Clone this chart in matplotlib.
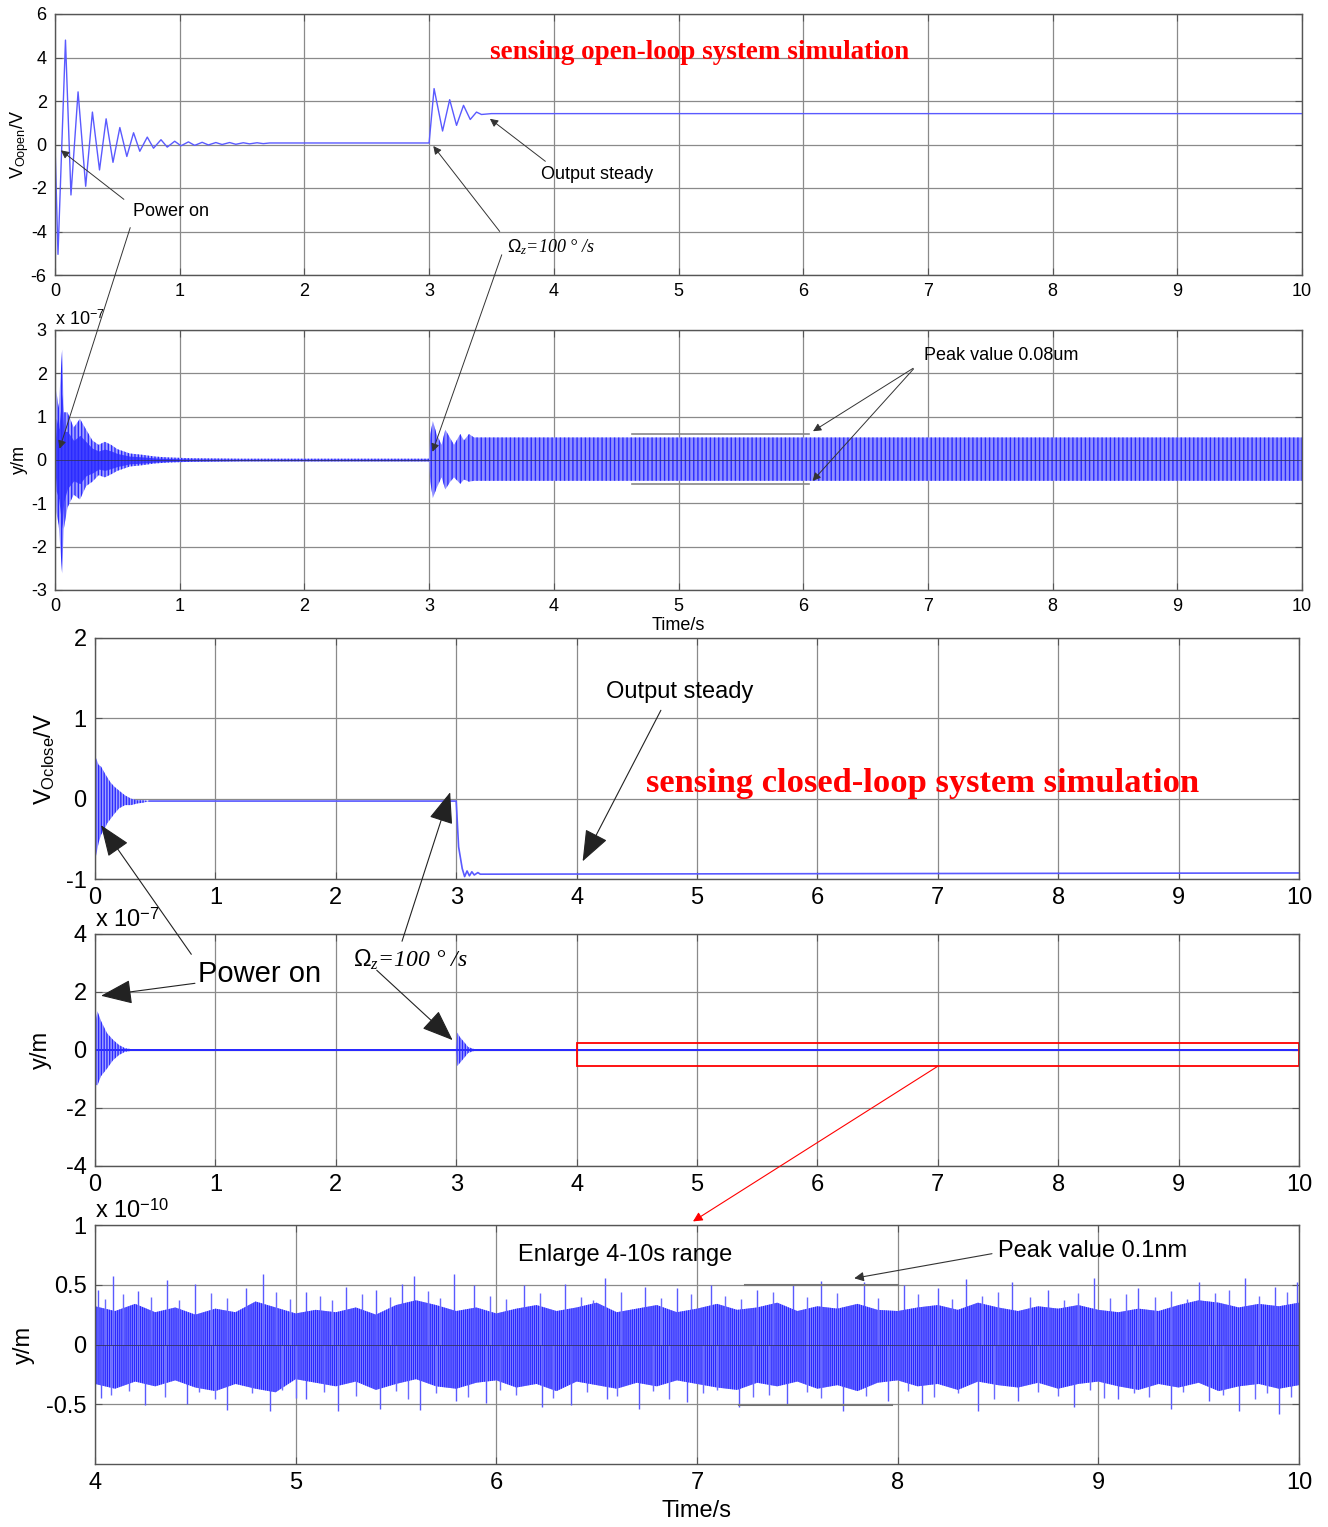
import numpy as np
import matplotlib
matplotlib.use('Agg')
import matplotlib.pyplot as plt

plt.rcParams['font.family'] = 'Liberation Sans'
plt.rcParams['mathtext.fontset'] = 'custom'
plt.rcParams['mathtext.rm'] = 'Liberation Sans'
plt.rcParams['mathtext.it'] = 'Liberation Serif:italic'
plt.rcParams['axes.unicode_minus'] = False
plt.rcParams['hatch.linewidth'] = 1.0

# open-loop drive voltage (V): extrema of the ringing after power on and after the rate step
t_vopen = [0, 0.024, 0.084, 0.128, 0.185, 0.246, 0.30, 0.357, 0.41, 0.465, 0.52, 0.576, 0.63,
           0.68, 0.74, 0.79, 0.85, 0.90, 0.96, 1.01, 1.07, 1.12, 1.18, 1.23, 1.29, 1.34, 1.40,
           1.45, 1.51, 1.56, 1.62, 1.67, 1.72, 3.0, 3.04, 3.108, 3.165, 3.22, 3.276, 3.33, 3.38,
           3.42, 3.5, 10.0]
v_open = [0, -5.05, 4.8, -2.32, 2.42, -1.92, 1.49, -1.17, 1.18, -0.82, 0.78, -0.55, 0.54,
          -0.31, 0.34, -0.17, 0.22, -0.12, 0.15, -0.06, 0.12, -0.04, 0.10, -0.02, 0.09, 0.0, 0.09,
          0.01, 0.08, 0.03, 0.08, 0.04, 0.07, 0.07, 2.57, 0.62, 2.06, 0.88, 1.80, 1.15, 1.49,
          1.38, 1.42, 1.42]

# open-loop displacement (x1e-7 m): envelope of the dense oscillation
t_yopen_a = [0, 0.01, 0.03, 0.057, 0.07, 0.1, 0.15, 0.2, 0.25, 0.3, 0.35, 0.4, 0.45, 0.5, 0.6,
             0.7, 0.8, 0.9, 1.0, 1.1, 1.5, 2.0, 2.5, 3.0]
yopen_up_a = [0.3, 1.6, 1.2, 2.55, 1.1, 1.1, 0.75, 0.95, 0.7, 0.45, 0.35, 0.42, 0.35, 0.25, 0.15,
              0.12, 0.08, 0.06, 0.05, 0.04, 0.03, 0.03, 0.03, 0.03]
yopen_lo_a = [-0.3, -1.2, -1.5, -2.62, -1.6, -1.1, -0.8, -0.91, -0.6, -0.5, -0.35, -0.4, -0.33,
              -0.25, -0.15, -0.12, -0.08, -0.06, -0.05, -0.04, -0.03, -0.03, -0.03, -0.03]
t_yopen_b = [3.0, 3.01, 3.03, 3.06, 3.1, 3.13, 3.17, 3.2, 3.25, 3.28, 3.32, 3.36, 3.4, 10.0]
yopen_up_b = [0.03, 0.6, 0.9, 0.6, 0.35, 0.7, 0.5, 0.35, 0.6, 0.45, 0.6, 0.52, 0.52, 0.52]
yopen_lo_b = [-0.03, -0.5, -0.88, -0.65, -0.4, -0.68, -0.5, -0.4, -0.55, -0.45, -0.5, -0.48,
              -0.48, -0.48]

# closed-loop drive voltage (V)
t_vclose_env = [0, 0.003, 0.01, 0.03, 0.05, 0.08, 0.1, 0.13, 0.16, 0.2, 0.25, 0.3, 0.35, 0.4, 0.45]
vclose_up = [1.1, 0.5, 0.5, 0.42, 0.4, 0.32, 0.27, 0.2, 0.15, 0.1, 0.04, 0.0, -0.02, -0.02, -0.03]
vclose_lo = [-0.75, -0.75, -0.7, -0.55, -0.45, -0.38, -0.31, -0.25, -0.19, -0.12, -0.08, -0.08,
             -0.06, -0.05, -0.03]
t_vclose = [0.45, 3.0, 3.02, 3.05, 3.07, 3.09, 3.11, 3.13, 3.15, 3.18, 3.2, 10.0]
v_close = [-0.03, -0.03, -0.6, -0.87, -0.97, -0.90, -0.96, -0.91, -0.95, -0.92, -0.94, -0.925]

# closed-loop displacement (x1e-7 m)
t_yclose_a = [0, 0.002, 0.005, 0.01, 0.02, 0.05, 0.1, 0.15, 0.2, 0.25, 0.3]
yclose_up_a = [2.67, 1.0, 0.9, 1.1, 1.34, 1.0, 0.58, 0.35, 0.17, 0.06, 0.03]
yclose_lo_a = [-2.8, -1.5, -1.3, -1.2, -1.22, -0.9, -0.64, -0.35, -0.17, -0.06, -0.03]
t_yclose_b = [3.0, 3.01, 3.03, 3.06, 3.1, 3.15]
yclose_up_b = [0.03, 0.6, 0.45, 0.3, 0.1, 0.03]
yclose_lo_b = [-0.03, -0.55, -0.45, -0.3, -0.1, -0.03]
yclose_rest = 0.03

# closed-loop displacement 4-10 s (x1e-10 m): bulk envelope every 0.1 s and the spikes
t_zoom = np.linspace(4.0, 10.0, 61)
zoom_up = [0.32, 0.28, 0.34, 0.27, 0.31, 0.25, 0.30, 0.27, 0.36, 0.31,
           0.26, 0.29, 0.27, 0.31, 0.25, 0.33, 0.37, 0.33, 0.28, 0.31,
           0.26, 0.30, 0.33, 0.28, 0.31, 0.35, 0.27, 0.30, 0.33, 0.27,
           0.30, 0.34, 0.29, 0.31, 0.35, 0.28, 0.32, 0.30, 0.34, 0.29,
           0.28, 0.31, 0.33, 0.29, 0.35, 0.31, 0.28, 0.32, 0.30, 0.33,
           0.29, 0.27, 0.30, 0.28, 0.33, 0.37, 0.35, 0.31, 0.34, 0.32, 0.35]
zoom_lo = [-0.33, -0.37, -0.31, -0.35, -0.30, -0.36, -0.39, -0.33, -0.37, -0.40,
           -0.29, -0.32, -0.35, -0.31, -0.38, -0.33, -0.29, -0.35, -0.37, -0.32,
           -0.30, -0.36, -0.33, -0.39, -0.31, -0.34, -0.37, -0.32, -0.35, -0.30,
           -0.33, -0.36, -0.38, -0.32, -0.35, -0.31, -0.37, -0.34, -0.39, -0.32,
           -0.30, -0.35, -0.33, -0.38, -0.31, -0.34, -0.36, -0.32, -0.37, -0.33,
           -0.31, -0.35, -0.38, -0.33, -0.36, -0.32, -0.39, -0.35, -0.33, -0.37, -0.34]
spike_up_t = [4.015, 4.09, 4.215, 4.36, 4.5, 4.75, 4.835, 5.05, 5.25, 5.4, 5.53, 5.59, 5.79,
              5.89, 6.14, 6.34, 6.54, 6.74, 6.9, 7.07, 7.3, 7.48, 7.62, 7.83, 8.03, 8.2, 8.34,
              8.57, 8.75, 8.98, 9.2, 9.5, 9.73, 9.88, 9.99]
spike_up_y = [0.46, 0.57, 0.45, 0.54, 0.51, 0.47, 0.59, 0.44, 0.48, 0.46, 0.51, 0.57, 0.59,
              0.50, 0.50, 0.51, 0.56, 0.48, 0.47, 0.50, 0.46, 0.50, 0.53, 0.52, 0.50, 0.47, 0.55,
              0.52, 0.46, 0.56, 0.47, 0.52, 0.56, 0.48, 0.52]
spike_lo_t = [4.03, 4.25, 4.46, 4.66, 4.87, 5.05, 5.21, 5.42, 5.62, 5.8, 5.95, 6.23, 6.37,
              6.55, 6.71, 6.95, 7.21, 7.45, 7.73, 7.95, 8.12, 8.4, 8.6, 8.88, 9.1, 9.36, 9.55,
              9.7, 9.9]
spike_lo_y = [-0.45, -0.51, -0.50, -0.55, -0.56, -0.46, -0.56, -0.54, -0.55, -0.47, -0.49,
              -0.52, -0.51, -0.46, -0.54, -0.48, -0.52, -0.50, -0.56, -0.47, -0.50, -0.56,
              -0.47, -0.52, -0.46, -0.54, -0.47, -0.56, -0.58]
# smaller excursions standing out of the bulk
mid_up_t = [4.05, 4.14, 4.28, 4.42, 4.58, 4.66, 4.9, 4.97, 5.12, 5.18, 5.33, 5.47, 5.66, 5.72,
            5.97, 6.05, 6.22, 6.42, 6.48, 6.62, 6.82, 6.97, 7.14, 7.22, 7.38, 7.55, 7.7, 7.9,
            8.1, 8.27, 8.42, 8.5, 8.66, 8.83, 8.9, 9.06, 9.14, 9.28, 9.36, 9.44, 9.58, 9.65,
            9.8, 9.94]
mid_up_y = [0.38, 0.42, 0.40, 0.37, 0.43, 0.39, 0.44, 0.38, 0.41, 0.37, 0.42, 0.40, 0.45, 0.39,
            0.41, 0.38, 0.43, 0.40, 0.37, 0.44, 0.39, 0.42, 0.41, 0.38, 0.44, 0.40, 0.43, 0.39,
            0.42, 0.38, 0.41, 0.44, 0.40, 0.37, 0.43, 0.39, 0.42, 0.40, 0.45, 0.38, 0.43, 0.46,
            0.41, 0.44]
mid_lo_t = [4.08, 4.17, 4.35, 4.52, 4.6, 4.78, 4.93, 5.0, 5.14, 5.3, 5.5, 5.56, 5.7, 5.86,
            6.02, 6.1, 6.28, 6.45, 6.6, 6.78, 6.86, 7.03, 7.1, 7.28, 7.36, 7.55, 7.62, 7.84,
            8.05, 8.18, 8.3, 8.48, 8.7, 8.8, 8.96, 9.03, 9.18, 9.25, 9.42, 9.62, 9.78, 9.84,
            9.96]
mid_lo_y = [-0.42, -0.39, -0.44, -0.40, -0.46, -0.41, -0.38, -0.45, -0.40, -0.43, -0.39, -0.46,
            -0.41, -0.44, -0.38, -0.42, -0.45, -0.40, -0.43, -0.39, -0.46, -0.41, -0.38, -0.44,
            -0.42, -0.40, -0.45, -0.43, -0.39, -0.44, -0.41, -0.46, -0.40, -0.43, -0.38, -0.45,
            -0.41, -0.44, -0.40, -0.42, -0.46, -0.41, -0.44]

BLUE = '#2a2aff'
LIGHT = '#a4a4ff'
GRID = '#8a8a8a'
ARROW = dict(arrowstyle='-|>', color='#333333', lw=0.7, mutation_scale=12)
BIG_ARROW = dict(arrowstyle='-|>,head_length=0.9,head_width=0.35', color='#222222',
                 lw=0.8, mutation_scale=22, shrinkA=0, shrinkB=0)


def style(ax, xlim, xticks, ylim, yticks, fs):
    ax.set_xlim(xlim)
    ax.set_ylim(ylim)
    ax.set_xticks(xticks)
    ax.set_yticks(yticks)
    ax.set_facecolor('none')
    ax.grid(True, color=GRID, lw=0.9)
    ax.set_axisbelow(True)
    ax.tick_params(direction='in', top=True, right=True, labelsize=fs, length=5,
                   color='#555555', pad=6)
    for s in ax.spines.values():
        s.set_color('#555555')
        s.set_linewidth(1.0)


def band(ax, t, up, lo, hatch='||||', face=LIGHT, core=None):
    ax.fill_between(t, lo, up, facecolor=face, edgecolor=BLUE, hatch=hatch, lw=0)
    if core is not None:
        ax.fill_between(t, np.array(lo) * core, np.array(up) * core, color=BLUE, lw=0, alpha=0.8)


fig = plt.figure(figsize=(13.28, 15.27), dpi=100)
W, H = 1328.0, 1527.0


def axes_px(l, t, r, b):
    return fig.add_axes([l / W, 1 - b / H, (r - l) / W, (b - t) / H])


ax1 = axes_px(55, 14, 1302, 275)
ax2 = axes_px(55, 330, 1302, 590)
ax3 = axes_px(95, 638, 1299, 879)
ax4 = axes_px(95, 934, 1299, 1166)
ax5 = axes_px(95, 1225, 1299, 1464)

# ---- open-loop voltage
style(ax1, (0, 10), range(0, 11), (-6, 6), range(-6, 7, 2), 13)
ax1.plot(t_vopen, v_open, color='#5a5aff', lw=1.0)
ax1.set_ylabel(r'V$_{\rm Oopen}$/V', fontsize=13, labelpad=0)
ax1.text(5.17, 4.25, 'sensing open-loop system simulation', color='red', fontsize=19.5,
         family='Liberation Serif', weight='bold', ha='center', va='center')
ax1.text(0.93, -3.1, 'Power on', fontsize=13, ha='center', va='center')
ax1.annotate('', xy=(0.03, -0.19), xytext=(0.57, -2.6), arrowprops=ARROW)
ax1.text(4.35, -1.4, 'Output steady', fontsize=13, ha='center', va='center')
ax1.annotate('', xy=(3.47, 1.26), xytext=(3.95, -0.85), arrowprops=ARROW)
ax1.text(3.98, -4.7, r'$\mathit{\Omega_z}$=100 ° /s', fontsize=13, family='Liberation Serif',
         style='italic', ha='center', va='center')
ax1.annotate('', xy=(3.02, 0.03), xytext=(3.58, -4.1), arrowprops=ARROW)

# ---- open-loop displacement
style(ax2, (0, 10), range(0, 11), (-3, 3), range(-3, 4), 13)
band(ax2, t_yopen_a, yopen_up_a, yopen_lo_a, hatch='|||||', core=0.6)
band(ax2, t_yopen_b, yopen_up_b, yopen_lo_b, hatch='||||', face='#8e8eff')
ax2.axhline(0, color='#333366', lw=0.6)
ax2.set_ylabel('y/m', fontsize=13, labelpad=2)
ax2.set_xlabel('Time/s', fontsize=13, labelpad=1)
ax2.text(0, 1.005, r'x 10$^{-7}$', transform=ax2.transAxes, fontsize=13, va='bottom')
ax2.plot([4.63, 6.05], [0.61, 0.61], color='#888888', lw=1.2)
ax2.plot([4.63, 6.05], [-0.55, -0.55], color='#888888', lw=1.2)
ax2.text(7.59, 2.4, 'Peak value 0.08um', fontsize=13, ha='center', va='center')
for yh in (0.63, -0.53):
    ax2.annotate('', xy=(6.06, yh), xytext=(6.9, 2.15), arrowprops=ARROW)
# leader lines coming down from the labels of the voltage plot
ax2.annotate('', xy=(0.03, 0.2), xytext=(0.61, -3.7), textcoords=ax1.transData,
             annotation_clip=False, arrowprops=ARROW)
ax2.annotate('', xy=(3.02, 0.13), xytext=(3.59, -4.95), textcoords=ax1.transData,
             annotation_clip=False, arrowprops=ARROW)

# ---- closed-loop voltage
style(ax3, (0, 10), range(0, 11), (-1, 2), range(-1, 3), 17)
band(ax3, t_vclose_env, vclose_up, vclose_lo, hatch='||||||')
ax3.plot(t_vclose, v_close, color='#5a5aff', lw=1.2)
ax3.set_ylabel(r'V$_{\rm Oclose}$/V', fontsize=17, labelpad=6)
ax3.text(6.87, 0.19, 'sensing closed-loop system simulation', color='red', fontsize=24.8,
         family='Liberation Serif', weight='bold', ha='center', va='center')
ax3.text(4.86, 1.33, 'Output steady', fontsize=17, ha='center', va='center')
ax3.annotate('', xy=(4.05, -0.78), xytext=(4.7, 1.1), arrowprops=BIG_ARROW)

# ---- closed-loop displacement
style(ax4, (0, 10), range(0, 11), (-4, 4), range(-4, 5, 2), 17)
band(ax4, t_yclose_a, yclose_up_a, yclose_lo_a, hatch='||||||')
band(ax4, t_yclose_b, yclose_up_b, yclose_lo_b, hatch='||||||')
ax4.fill_between([0, 10], [-yclose_rest] * 2, [yclose_rest] * 2, color=BLUE, lw=0)
ax4.set_ylabel('y/m', fontsize=17, labelpad=10)
ax4.text(0, 1.01, r'x 10$^{-7}$', transform=ax4.transAxes, fontsize=17, va='bottom')
ax4.text(1.37, 2.62, 'Power on', fontsize=21, ha='center', va='center')
ax4.annotate('', xy=(0.05, 1.87), xytext=(0.83, 2.3), arrowprops=BIG_ARROW)
ax4.text(2.62, 3.1, r'$\mathit{\Omega_z}$=100 ° /s', fontsize=17, family='Liberation Serif',
         style='italic', ha='center', va='center')
ax4.annotate('', xy=(2.97, 0.34), xytext=(2.34, 2.75), arrowprops=BIG_ARROW)
ax4.add_patch(plt.Rectangle((4, -0.56), 6, 0.81, fill=False, edgecolor='red', lw=1.3,
                            clip_on=False))
ax4.annotate('', xy=(0.05, -0.33), xycoords=ax3.transData, xytext=(0.8, 3.3),
             textcoords=ax4.transData, annotation_clip=False, arrowprops=BIG_ARROW)
ax4.annotate('', xy=(2.95, 0.08), xycoords=ax3.transData, xytext=(2.55, 3.75),
             textcoords=ax4.transData, annotation_clip=False, arrowprops=BIG_ARROW)

# ---- enlarged 4-10 s window
style(ax5, (4, 10), range(4, 11), (-1, 1), [-0.5, 0, 0.5, 1], 17)
ax5.set_yticklabels(['-0.5', '0', '0.5', '1'])
band(ax5, t_zoom, zoom_up, zoom_lo, hatch='||||||||', face='#a0a0ff')
ax5.vlines(mid_up_t, 0, mid_up_y, color='#6a6aff', lw=1.0)
ax5.vlines(mid_lo_t, 0, mid_lo_y, color='#6a6aff', lw=1.0)
ax5.vlines(spike_up_t, 0, spike_up_y, color='#5a5aff', lw=1.0)
ax5.vlines(spike_lo_t, 0, spike_lo_y, color='#5a5aff', lw=1.0)
ax5.axhline(0, color='#333366', lw=0.6)
ax5.set_ylabel('y/m', fontsize=17, labelpad=8)
ax5.set_xlabel('Time/s', fontsize=17, labelpad=4)
ax5.text(0, 1.01, r'x 10$^{-10}$', transform=ax5.transAxes, fontsize=17, va='bottom')
ax5.text(6.64, 0.75, 'Enlarge 4-10s range', fontsize=17, ha='center', va='center')
ax5.plot([7.24, 8.0], [0.5, 0.5], color='#777777', lw=1.5)
ax5.plot([7.21, 7.97], [-0.51, -0.51], color='#777777', lw=1.5)
ax5.text(8.97, 0.78, 'Peak value 0.1nm', fontsize=17, ha='center', va='center')
ax5.annotate('', xy=(7.77, 0.55), xytext=(8.47, 0.76),
             arrowprops=dict(arrowstyle='-|>', color='#333333', lw=0.8, mutation_scale=14,
                             shrinkA=0))
ax5.annotate('', xy=(6.98, 1.03), xytext=(7.0, -0.56), textcoords=ax4.transData,
             annotation_clip=False,
             arrowprops=dict(arrowstyle='-|>', color='red', lw=0.8, mutation_scale=14,
                             shrinkA=0, shrinkB=0))

fig.savefig('out.png', dpi=100, facecolor='white')
